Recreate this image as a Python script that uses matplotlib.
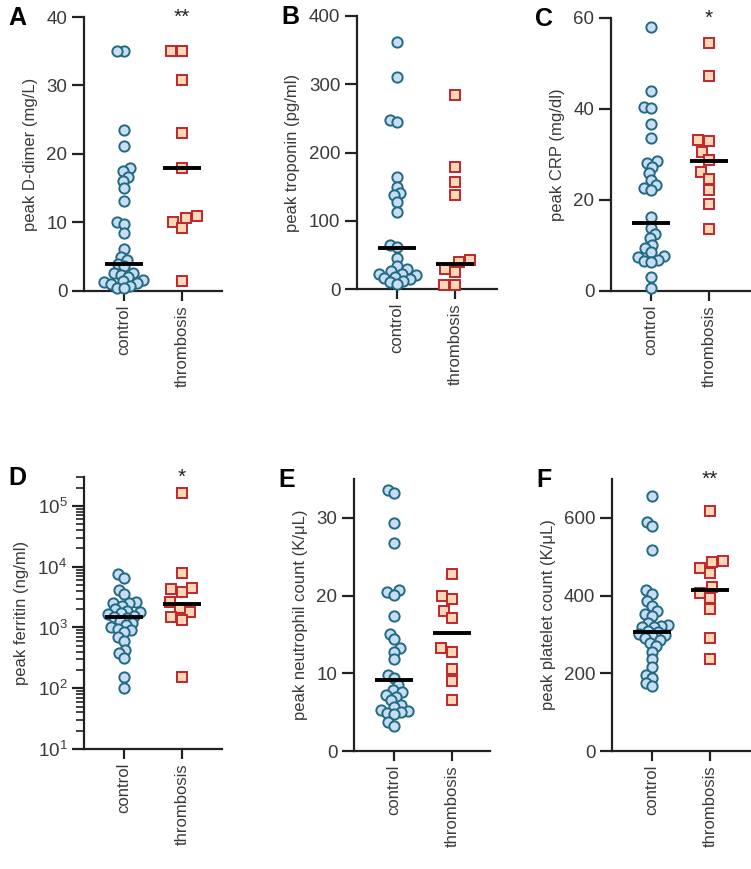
import numpy as np
import matplotlib
matplotlib.use("Agg")
import matplotlib.pyplot as plt
from matplotlib.ticker import LogLocator, NullFormatter, FixedLocator

plt.rcParams['font.family'] = ['Liberation Sans', 'DejaVu Sans']
plt.rcParams['mathtext.fontset'] = 'custom'
plt.rcParams['mathtext.rm'] = 'Liberation Sans'
plt.rcParams['mathtext.it'] = 'Liberation Sans:italic'
plt.rcParams['mathtext.bf'] = 'Liberation Sans:bold'

groups = ["control", "thrombosis"]

# ---- data ----
ddimer_control = [35, 35, 23.5, 21.2, 17.9, 17.5, 16.7, 16.0, 15.0, 13.2, 10.0, 9.8, 8.4, 6.1,
                  5.0, 4.5, 4.0, 3.6, 2.7, 2.6, 2.4, 2.0, 1.6, 1.4, 1.3, 1.2, 1.0, 0.8, 0.5, 0.4]
ddimer_thromb = [35, 35, 30.8, 23.1, 18.0, 10.9, 10.7, 10.1, 9.2, 1.5]
ddimer_median = [4.0, 18.0]

trop_control = [362, 310, 247, 245, 164, 150, 140, 137, 128, 113, 64, 62, 45, 33, 29, 26,
                22, 22, 20, 18, 16, 14, 12, 10, 8]
trop_thromb = [284, 179, 157, 137, 42, 40, 30, 25, 6, 6]
trop_median = [60, 37]

crp_control = [58, 43.9, 40.4, 40.2, 36.6, 33.6, 28.5, 28.2, 27.3, 25.9, 24.4, 23.3, 22.6, 22.2,
               16.3, 13.8, 12.6, 11.6, 10.1, 9.4, 8.5, 7.6, 7.4, 6.8, 6.5, 6.4, 3.1, 0.6]
crp_thromb = [54.4, 47.3, 33.1, 32.9, 30.6, 28.7, 26.2, 24.6, 22.1, 19.1, 13.6]
crp_median = [15.0, 28.5]

ferritin_control = [7500, 6600, 4200, 3500, 2600, 2550, 2500, 2300, 2000, 1900, 1800, 1700, 1650,
                    1550, 1500, 1450, 1300, 1200, 1100, 1000, 950, 900, 850, 700, 600, 420, 380,
                    320, 155, 100]
ferritin_thromb = [166000, 7950, 4500, 4300, 3900, 2600, 2100, 1800, 1500, 1350, 155]
ferritin_median = [1480, 2400]

neut_control = [33.6, 33.2, 29.4, 26.8, 20.7, 20.4, 20.1, 17.4, 15.1, 14.4, 13.3, 12.8, 11.9, 9.8,
                9.4, 8.5, 7.8, 7.6, 7.2, 7.0, 6.5, 5.9, 5.7, 5.3, 5.1, 5.0, 4.9, 4.8, 3.7, 3.2]
neut_thromb = [22.8, 20.0, 19.5, 18.0, 17.1, 13.2, 12.8, 10.5, 9.0, 6.5]
neut_median = [9.2, 15.2]

plt_control = [657, 590, 578, 516, 415, 405, 385, 372, 360, 352, 348, 330, 325, 322, 320, 318,
               310, 305, 300, 298, 295, 290, 285, 278, 270, 256, 238, 217, 196, 187, 176, 168]
plt_thromb = [618, 488, 486, 471, 458, 422, 407, 394, 365, 290, 236]
plt_median = [306, 415]

panels = [
    dict(letter="A", ylabel="peak D-dimer (mg/L)", ctrl=ddimer_control, thr=ddimer_thromb,
         med=ddimer_median, ylim=(0, 40), yticks=[0, 10, 20, 30, 40], star="**",
         rect=[84, 17, 138, 274]),
    dict(letter="B", ylabel="peak troponin (pg/ml)", ctrl=trop_control, thr=trop_thromb,
         med=trop_median, ylim=(0, 400), yticks=[0, 100, 200, 300, 400], star="",
         rect=[357, 16, 140, 273]),
    dict(letter="C", ylabel="peak CRP (mg/dl)", ctrl=crp_control, thr=crp_thromb,
         med=crp_median, ylim=(0, 60), yticks=[0, 20, 40, 60], star="*",
         rect=[611, 18, 140, 273]),
    dict(letter="D", ylabel="peak ferritin (ng/ml)", ctrl=ferritin_control, thr=ferritin_thromb,
         med=ferritin_median, ylim=(10, 3e5), yticks=None, star="*", log=True,
         rect=[84, 477, 138, 272]),
    dict(letter="E", ylabel="peak neutrophil count (K/\u03bcL)", ctrl=neut_control, thr=neut_thromb,
         med=neut_median, ylim=(0, 35), yticks=[0, 10, 20, 30], star="",
         rect=[354, 479, 136, 272]),
    dict(letter="F", ylabel="peak platelet count (K/\u03bcL)", ctrl=plt_control, thr=plt_thromb,
         med=plt_median, ylim=(0, 700), yticks=[0, 200, 400, 600], star="**",
         rect=[612, 479, 140, 272]),
]

W, H = 751, 869
fig = plt.figure(figsize=(W / 100, H / 100), dpi=100)

circ_face, circ_edge = "#c6ddf3", "#226a82"
sq_face, sq_edge = "#fdd8b6", "#c0272d"
axis_col = "#222222"
text_col = "#3a3a3a"


def swarm(ax, x0, vals, d):
    vals = np.asarray(vals, float)
    pts = ax.transData.transform(np.column_stack([np.full(len(vals), x0), vals]))
    xc = pts[0, 0]
    ys = pts[:, 1]
    order = np.argsort(ys)
    placed = []
    xs = np.zeros(len(vals))
    for i in order:
        y = ys[i]
        neigh = [(px, py) for px, py in placed if abs(py - y) < d]
        cands = [0.0]
        for px, py in neigh:
            dx = np.sqrt(max(d * d - (py - y) ** 2, 0))
            cands += [px + dx, px - dx]
        cands = sorted(cands, key=lambda c: (abs(c), c))
        chosen = cands[-1]
        for c in cands:
            if all((c - px) ** 2 + (y - py) ** 2 >= d * d - 1e-6 for px, py in neigh):
                chosen = c
                break
        xs[i] = chosen
        placed.append((chosen, y))
    inv = ax.transData.inverted()
    data = inv.transform(np.column_stack([xc + xs, ys]))
    return data[:, 0], vals


for p in panels:
    l, t, w, h = p["rect"]
    ax = fig.add_axes([l / W, 1 - (t + h) / H, w / W, h / H])
    ax.set_xlim(1 - 40 / 58, 1 + (w - 40) / 58)
    if p.get("log"):
        ax.set_yscale("log")
    ax.set_ylim(*p["ylim"])
    for s in ["top", "right"]:
        ax.spines[s].set_visible(False)
    for s in ["left", "bottom"]:
        ax.spines[s].set_linewidth(1.6)
        ax.spines[s].set_color(axis_col)
    ax.set_xticks([1, 2])
    ax.set_xticklabels(groups, rotation=90, fontsize=12, color=text_col)
    if p.get("log"):
        ax.yaxis.set_major_locator(FixedLocator([1e1, 1e2, 1e3, 1e4, 1e5]))
        ax.set_yticklabels([r"$10^{%d}$" % k for k in range(1, 6)])
        ax.yaxis.set_minor_locator(LogLocator(base=10, subs=np.arange(2, 10)))
        ax.yaxis.set_minor_formatter(NullFormatter())
        ax.tick_params(axis="y", which="minor", length=5.5, width=1.2, color=axis_col)
    else:
        ax.set_yticks(p["yticks"])
    ax.tick_params(axis="both", which="major", length=9, width=1.6, color=axis_col,
                   labelsize=13.5, labelcolor=text_col, pad=3)
    ax.tick_params(axis="x", labelsize=12, length=7)
    ax.set_ylabel(p["ylabel"], fontsize=12, color=text_col, labelpad=6)

    xs, ys = swarm(ax, 1, p["ctrl"], 7.0)
    ax.plot(xs, ys, "o", ms=7.4, mfc=circ_face, mec=circ_edge, mew=1.4, zorder=3, clip_on=False)
    xs, ys = swarm(ax, 2, p["thr"], 11.0)
    ax.plot(xs, ys, "s", ms=7.2, mfc=sq_face, mec=sq_edge, mew=1.4, zorder=3, clip_on=False)
    for gx, m in zip([1, 2], p["med"]):
        ax.hlines(m, gx - 0.32, gx + 0.32, color="black", lw=2.8, zorder=4)
    if p["star"]:
        ax.text(2, 1.0, p["star"], transform=ax.get_xaxis_transform(), ha="center",
                va="center", fontsize=15, color="#222222", clip_on=False)
    fig.text((l - 76) / W, 1 - (t + 1) / H, p["letter"], fontsize=18, fontweight="bold",
             ha="left", va="center", color="black")

fig.savefig("out.png", dpi=100)
